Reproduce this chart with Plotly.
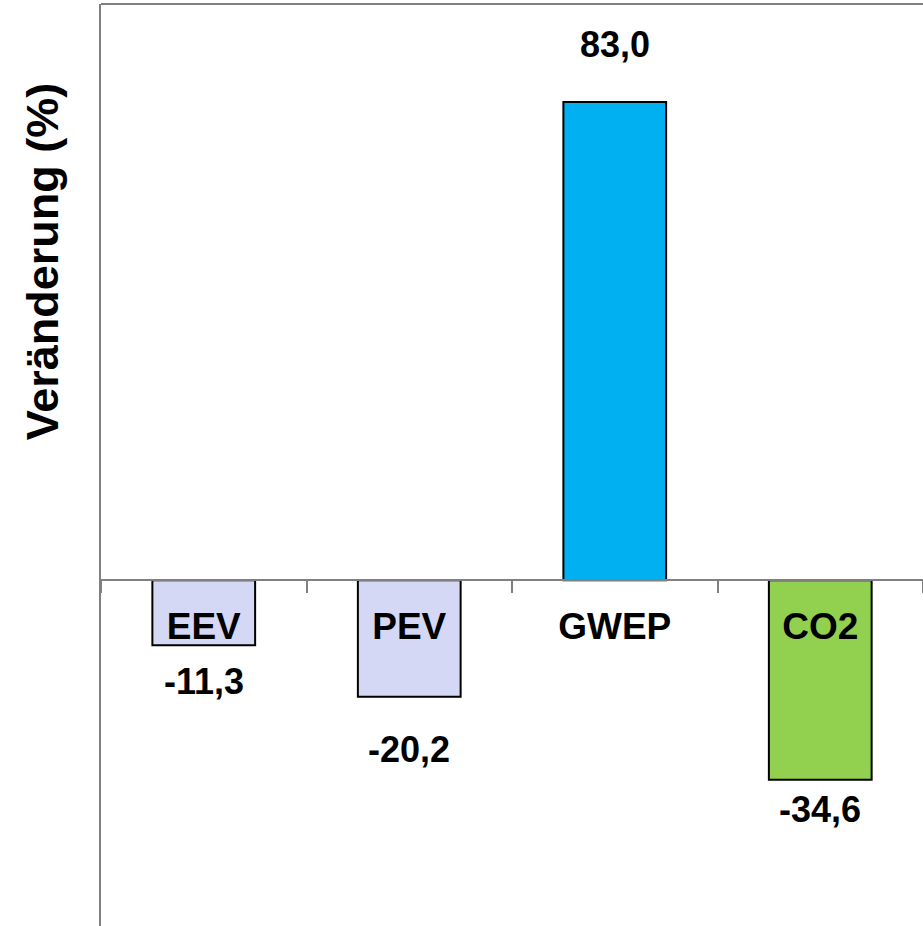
import plotly.graph_objects as go

categories = ["EEV", "PEV", "GWEP", "CO2"]
values = [-11.3, -20.2, 83.0, -34.6]
bar_colors = ["#D5D8F4", "#D5D8F4", "#00B0F0", "#92D050"]
label_shift = [-36, -53, 57, -30]  # pixel offsets of value labels from bar ends

y_min, y_max = -60, 100
FONT = "Liberation Sans, Arial, sans-serif"

fig = go.Figure()
fig.add_trace(go.Bar(
    x=categories, y=values, width=0.5,
    marker=dict(color=bar_colors, line=dict(color="#000000", width=2)),
    hoverinfo="skip",
))

for c, v, s in zip(categories, values, label_shift):
    fig.add_annotation(
        x=c, y=v, xref="x", yref="y", yshift=s,
        text="<b>" + f"{v:.1f}".replace(".", ",") + "</b>",
        showarrow=False, xanchor="center", yanchor="middle",
        font=dict(family=FONT, size=36, color="#000000"),
    )

fig.add_annotation(
    x=0, y=0.721, xref="paper", yref="paper", xshift=-59,
    text="<b>Veränderung (%)</b>", textangle=-90, showarrow=False,
    xanchor="center", yanchor="middle",
    font=dict(family=FONT, size=45, color="#000000"),
)

fig.add_shape(type="line", xref="paper", yref="paper", x0=0, x1=1, y0=1, y1=1,
              line=dict(color="#808080", width=2))

fig.update_layout(
    width=923, height=926,
    margin=dict(l=101, r=0, t=4, b=0),
    paper_bgcolor="white", plot_bgcolor="white",
    showlegend=False,
    xaxis=dict(
        anchor="free", position=(0 - y_min) / (y_max - y_min),
        showline=True, linecolor="#808080", linewidth=2,
        ticks="outside", tickson="boundaries", ticklen=12, tickcolor="#808080", tickwidth=2,
        tickfont=dict(family=FONT, size=37, color="#000000"),
        tickvals=categories, ticktext=["<b>" + c + "</b>" for c in categories],
        ticklabelstandoff=13,
        showgrid=False, zeroline=False,
    ),
    yaxis=dict(
        range=[y_min, y_max], showline=True, linecolor="#808080", linewidth=2,
        showticklabels=False, ticks="", showgrid=False, zeroline=False,
    ),
)

fig.write_html("out.html", config={"displayModeBar": False},
               post_script="document.body.style.margin='0px';")
